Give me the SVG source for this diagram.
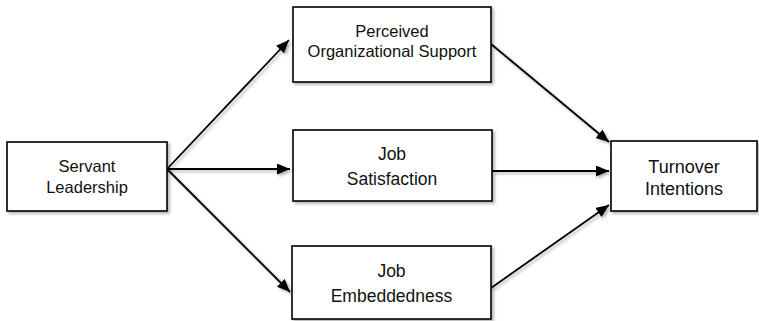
<svg xmlns="http://www.w3.org/2000/svg" width="759" height="321" viewBox="0 0 759 321">
  <style>
    .box { fill: #ffffff; stroke: #000000; stroke-width: 1.6; }
    .lbl { font-family: "Liberation Sans", Arial, sans-serif; fill: #111111; text-anchor: middle; }
    .edge { stroke: #000000; stroke-width: 1.8; fill: none; marker-end: url(#arrow); }
  </style>
  <defs>
    <filter id="shadow" x="-20%" y="-20%" width="140%" height="140%">
      <feDropShadow dx="2" dy="2" stdDeviation="1.5" flood-color="#000000" flood-opacity="0.3"/>
    </filter>
    <marker id="arrow" markerUnits="userSpaceOnUse" markerWidth="14" markerHeight="12" refX="13" refY="5.5" orient="auto">
      <path d="M0,0 L13,5.5 L0,11 z" fill="#000000"/>
    </marker>
  </defs>

  <!-- connectors -->
  <g id="connectors" filter="url(#shadow)">
    <line class="edge" x1="167" y1="169" x2="289" y2="40"/>
    <line class="edge" x1="167" y1="169" x2="290" y2="169"/>
    <line class="edge" x1="167" y1="169" x2="290" y2="292"/>
    <line class="edge" x1="491" y1="44" x2="609" y2="142"/>
    <line class="edge" x1="492" y1="171" x2="609" y2="171"/>
    <line class="edge" x1="491" y1="288" x2="609" y2="205"/>
  </g>

  <!-- nodes -->
  <g id="servant-leadership">
    <rect class="box" x="7" y="142" width="160" height="69" filter="url(#shadow)"/>
    <text class="lbl" x="87" y="172" font-size="16.5">Servant</text>
    <text class="lbl" x="87" y="193" font-size="16.5">Leadership</text>
  </g>

  <g id="perceived-support">
    <rect class="box" x="293" y="7" width="198" height="75" filter="url(#shadow)"/>
    <text class="lbl" x="392" y="37" font-size="16.5">Perceived</text>
    <text class="lbl" x="392" y="57" font-size="16.5">Organizational Support</text>
  </g>

  <g id="job-satisfaction">
    <rect class="box" x="293" y="130" width="199" height="71" filter="url(#shadow)"/>
    <text class="lbl" x="392" y="160" font-size="17.5">Job</text>
    <text class="lbl" x="392" y="185" font-size="17.5">Satisfaction</text>
  </g>

  <g id="job-embeddedness">
    <rect class="box" x="292" y="246" width="199" height="73" filter="url(#shadow)"/>
    <text class="lbl" x="391.5" y="277" font-size="17.5">Job</text>
    <text class="lbl" x="391.5" y="302" font-size="17.5">Embeddedness</text>
  </g>

  <g id="turnover-intentions">
    <rect class="box" x="611" y="141" width="146" height="70" filter="url(#shadow)"/>
    <text class="lbl" x="684" y="173" font-size="18">Turnover</text>
    <text class="lbl" x="684" y="195" font-size="18">Intentions</text>
  </g>
</svg>
